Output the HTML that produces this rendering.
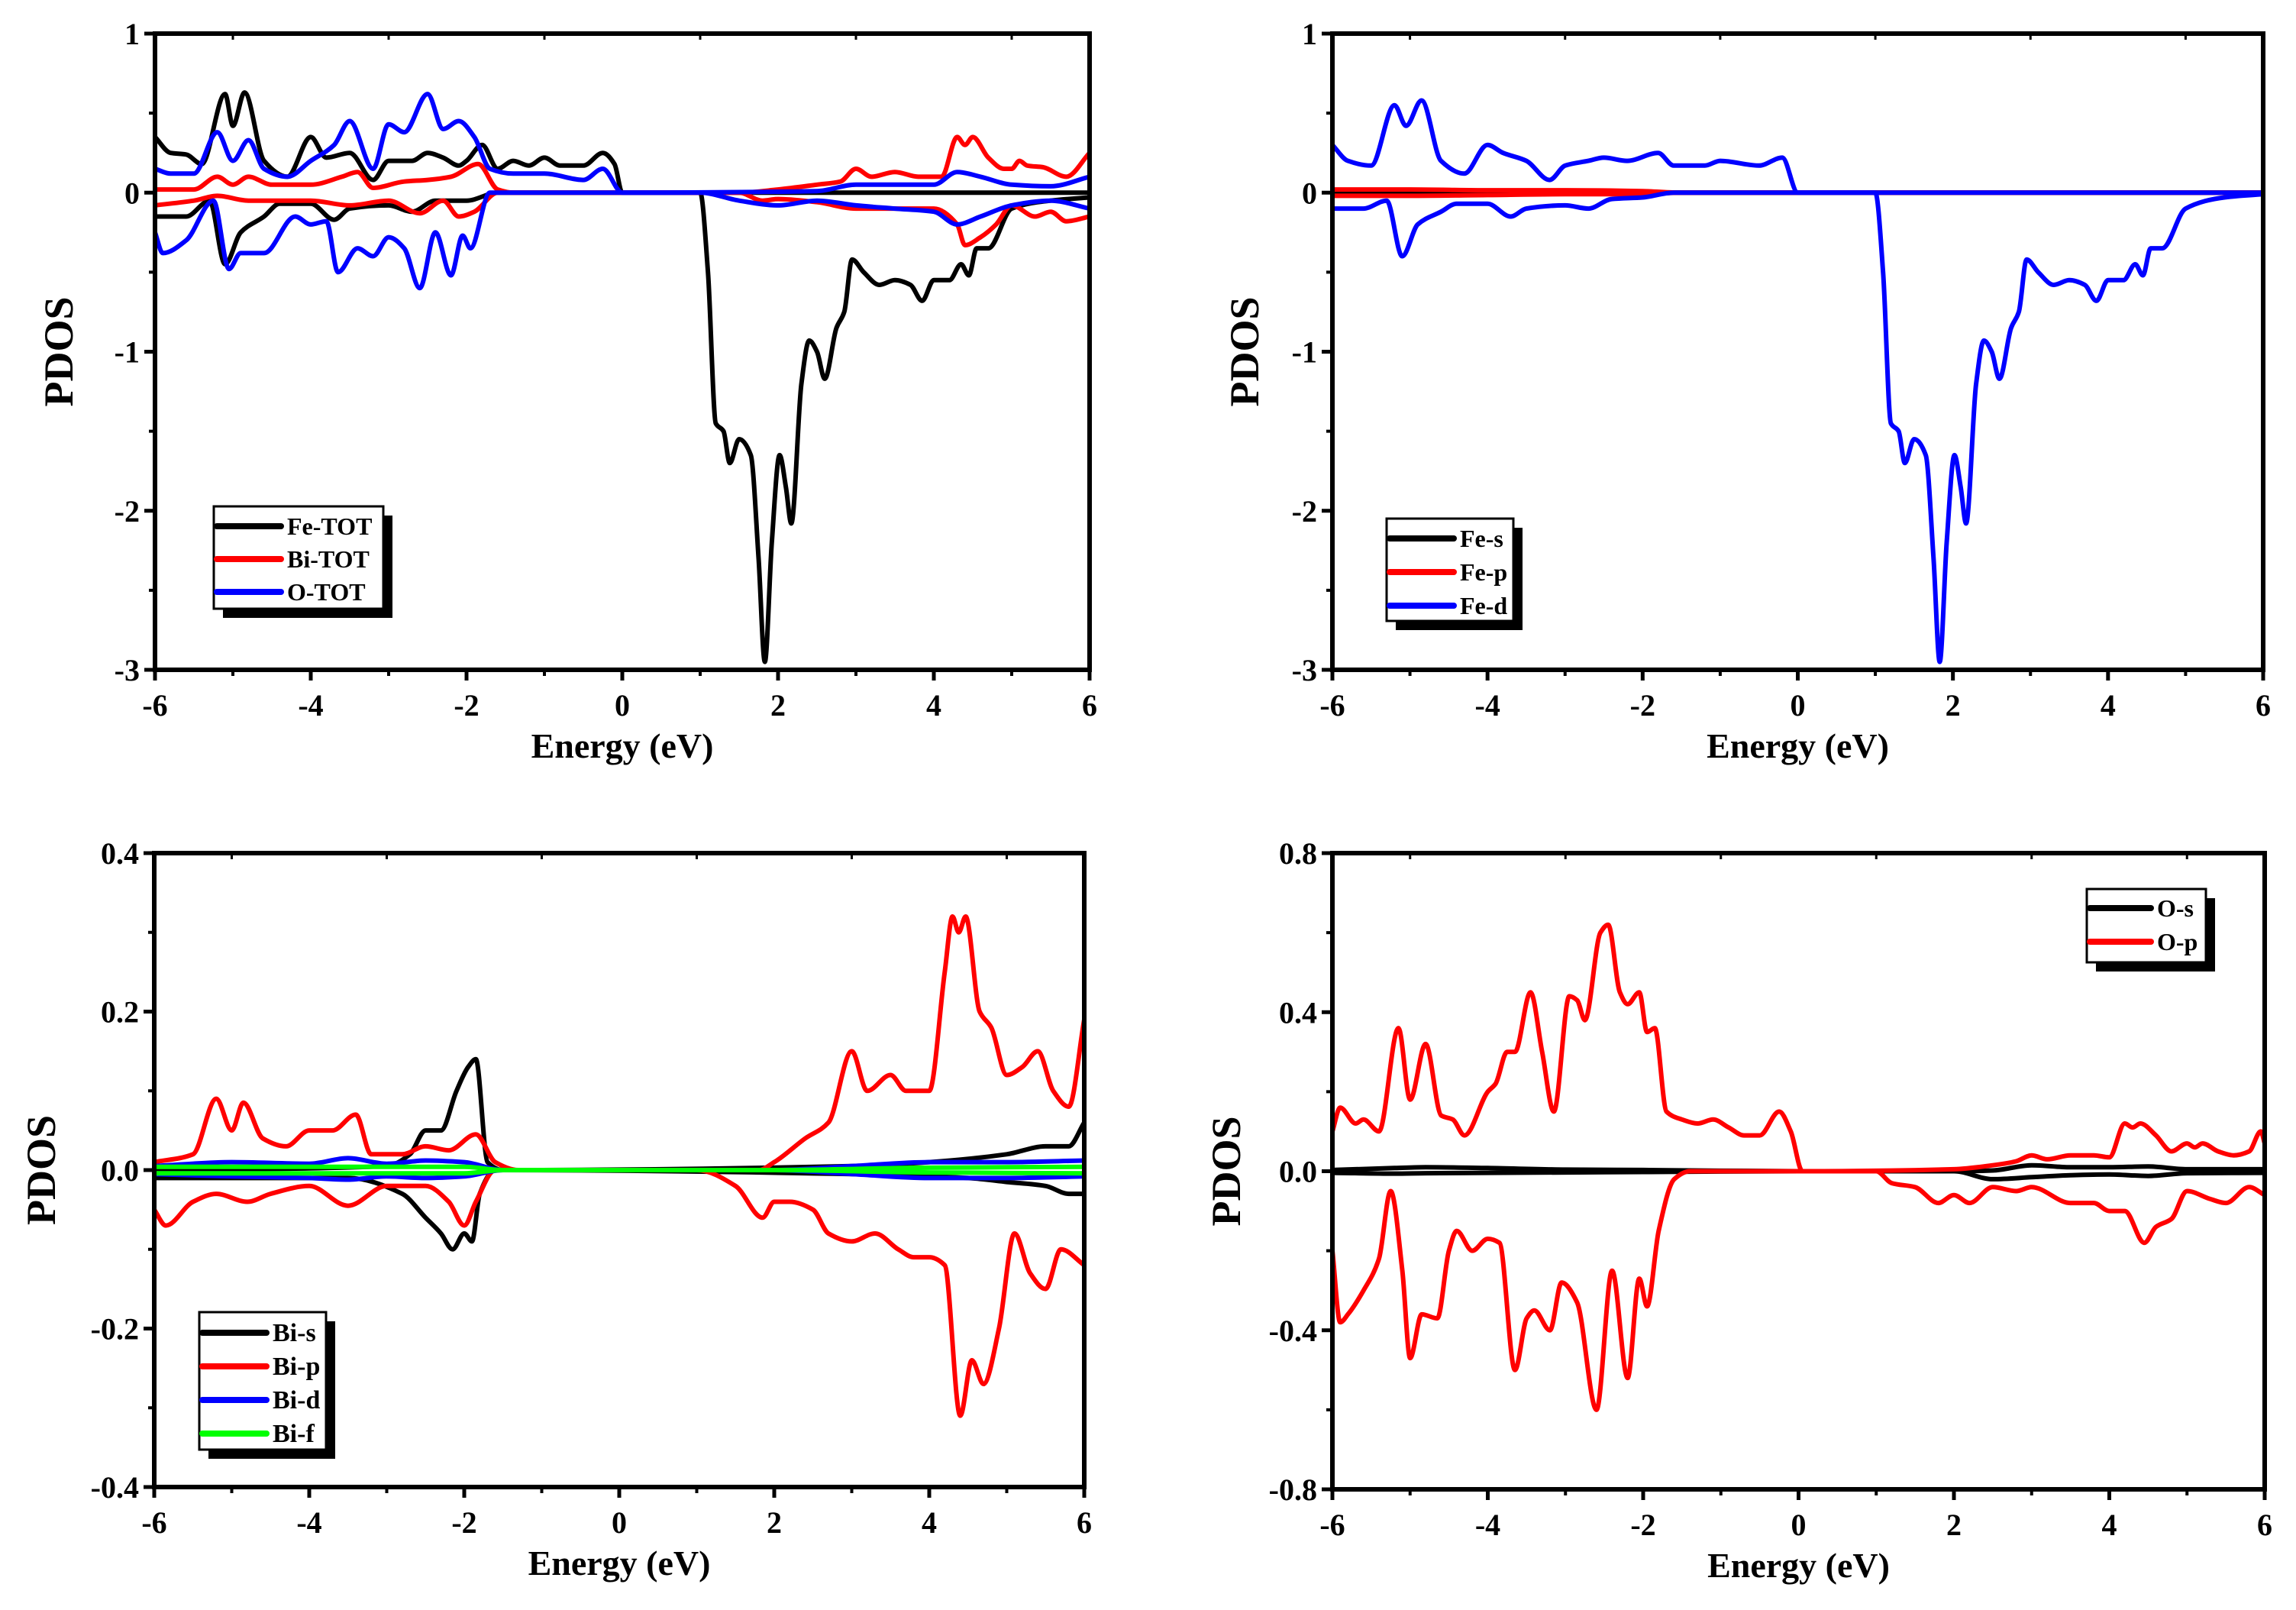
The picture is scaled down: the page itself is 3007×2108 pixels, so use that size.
<!DOCTYPE html>
<html><head><meta charset="utf-8"><style>
html,body{margin:0;padding:0;background:#fff;}
svg{display:block;font-family:"Liberation Serif",serif;font-weight:bold;}
</style></head><body>
<svg id="fig" width="3007" height="2108" viewBox="0 0 3007 2108" xmlns="http://www.w3.org/2000/svg"></svg>
<script>
// ---------- DATA ----------
const energyTicks = [-6,-4,-2,0,2,4,6];
const tlTicks = [1,0,-1,-2,-3];
const blTicks = [0.4,0.2,0.0,-0.2,-0.4];
const brTicks = [0.8,0.4,0.0,-0.4,-0.8];
const tickLabelsBL = ["0.4","0.2","0.0","-0.2","-0.4"];
const tickLabelsBR = ["0.8","0.4","0.0","-0.4","-0.8"];

// Panel A: Fe-TOT, Bi-TOT, O-TOT
const feTotUpE = [-6,-5.8,-5.6,-5.4,-5.1,-5.0,-4.85,-4.6,-4.3,-4.0,-3.8,-3.5,-3.2,-3.0,-2.7,-2.5,-2.3,-2.1,-2.0,-1.8,-1.6,-1.4,-1.2,-1.0,-0.8,-0.5,-0.25,-0.1,0,6];
const feTotUpV = [0.35,0.25,0.24,0.18,0.62,0.42,0.63,0.2,0.1,0.35,0.22,0.25,0.08,0.2,0.2,0.25,0.22,0.17,0.2,0.3,0.15,0.2,0.17,0.22,0.17,0.17,0.25,0.18,0,0];
const feTotDnE = [-6,-5.6,-5.3,-5.1,-4.9,-4.6,-4.4,-4.0,-3.7,-3.5,-3.0,-2.7,-2.4,-2.0,-1.6,0,1.0,1.1,1.2,1.3,1.38,1.5,1.65,1.75,1.83,1.92,2.02,2.1,2.17,2.3,2.4,2.5,2.6,2.75,2.85,2.95,3.1,3.3,3.5,3.7,3.85,4.0,4.2,4.35,4.45,4.55,4.7,5.0,5.5,6];
const feTotDnV = [-0.15,-0.15,-0.05,-0.45,-0.25,-0.15,-0.07,-0.07,-0.17,-0.1,-0.08,-0.12,-0.05,-0.05,0,0,0,-0.5,-1.45,-1.5,-1.7,-1.55,-1.65,-2.3,-2.95,-2.2,-1.65,-1.85,-2.08,-1.2,-0.93,-1.0,-1.17,-0.85,-0.75,-0.42,-0.5,-0.58,-0.55,-0.58,-0.68,-0.55,-0.55,-0.45,-0.52,-0.35,-0.35,-0.1,-0.05,-0.03];
const biTotUpE = [-6,-5.5,-5.2,-5.0,-4.8,-4.5,-4.0,-3.6,-3.4,-3.2,-2.8,-2.5,-2.2,-1.85,-1.6,-1.4,0,1.5,2.0,2.5,2.8,3.0,3.2,3.5,3.8,4.1,4.3,4.4,4.5,4.7,4.9,5.0,5.1,5.2,5.4,5.7,6];
const biTotUpV = [0.02,0.02,0.1,0.05,0.1,0.05,0.05,0.1,0.13,0.03,0.07,0.08,0.1,0.18,0.02,0,0,0,0.02,0.05,0.07,0.15,0.1,0.13,0.1,0.1,0.35,0.3,0.35,0.22,0.15,0.15,0.2,0.17,0.16,0.1,0.25];
const biTotDnE = [-6,-5.5,-5.2,-4.8,-4.5,-4.0,-3.5,-3.0,-2.6,-2.3,-2.1,-1.9,-1.6,1.5,1.8,2.0,2.5,3.0,3.5,4.0,4.3,4.4,4.6,4.8,5.0,5.3,5.5,5.7,6];
const biTotDnV = [-0.08,-0.05,-0.02,-0.05,-0.05,-0.05,-0.08,-0.05,-0.13,-0.05,-0.15,-0.12,0,0,-0.05,-0.04,-0.06,-0.1,-0.1,-0.1,-0.2,-0.33,-0.28,-0.2,-0.08,-0.15,-0.12,-0.18,-0.15];
const oTotUpE = [-6,-5.8,-5.5,-5.2,-5.0,-4.8,-4.6,-4.3,-4.0,-3.7,-3.5,-3.2,-3.0,-2.8,-2.5,-2.3,-2.1,-1.9,-1.7,-1.4,-1.0,-0.5,-0.25,0,2.5,3.0,3.5,4.0,4.3,4.6,5.0,5.5,6];
const oTotUpV = [0.15,0.12,0.12,0.38,0.2,0.33,0.15,0.1,0.2,0.3,0.45,0.15,0.43,0.38,0.62,0.4,0.45,0.35,0.15,0.12,0.12,0.08,0.15,0,0.01,0.05,0.05,0.05,0.13,0.1,0.05,0.04,0.1];
const oTotDnE = [-6,-5.9,-5.6,-5.25,-5.05,-4.9,-4.6,-4.2,-4.0,-3.8,-3.65,-3.4,-3.2,-3.0,-2.8,-2.6,-2.4,-2.2,-2.05,-1.95,-1.7,1.0,1.5,2.0,2.5,3.0,3.5,4.0,4.3,4.6,5.0,5.5,6];
const oTotDnV = [-0.25,-0.38,-0.3,-0.05,-0.48,-0.38,-0.38,-0.15,-0.2,-0.18,-0.5,-0.35,-0.4,-0.28,-0.35,-0.6,-0.25,-0.52,-0.27,-0.35,0,0,-0.05,-0.08,-0.05,-0.08,-0.1,-0.12,-0.2,-0.15,-0.08,-0.05,-0.1];

// Panel B: Fe-s, Fe-p, Fe-d
const feDUpE = [-6,-5.8,-5.5,-5.2,-5.05,-4.85,-4.6,-4.3,-4.0,-3.8,-3.5,-3.2,-3.0,-2.7,-2.5,-2.2,-1.8,-1.6,-1.2,-1.0,-0.5,-0.2,0,6];
const feDUpV = [0.3,0.2,0.17,0.55,0.42,0.58,0.2,0.12,0.3,0.25,0.2,0.08,0.17,0.2,0.22,0.2,0.25,0.17,0.17,0.2,0.17,0.22,0,0];
const feDDnE = feTotDnE;
const feDDnV = [-0.1,-0.1,-0.05,-0.4,-0.2,-0.12,-0.07,-0.07,-0.15,-0.1,-0.08,-0.1,-0.04,-0.03,0,0,0,-0.5,-1.45,-1.5,-1.7,-1.55,-1.65,-2.3,-2.95,-2.2,-1.65,-1.85,-2.08,-1.2,-0.93,-1.0,-1.17,-0.85,-0.75,-0.42,-0.5,-0.58,-0.55,-0.58,-0.68,-0.55,-0.55,-0.45,-0.52,-0.35,-0.35,-0.1,-0.03,-0.01];
const fePUpE = [-6,-5,-4,-3,-2,-1.5,6];
const fePUpV = [0.02,0.02,0.015,0.015,0.01,0,0];
const fePDnE = [-6,-5,-4,-3,-2,-1.5,6];
const fePDnV = [-0.02,-0.02,-0.015,-0.01,-0.01,0,0];
const feSE = [-6,6];
const feSV = [0,0];

// Panel C: Bi-s, Bi-p, Bi-d, Bi-f
const biPUpE = [-6,-5.5,-5.2,-5.0,-4.85,-4.6,-4.3,-4.0,-3.7,-3.4,-3.2,-2.8,-2.5,-2.2,-1.85,-1.6,-1.3,1.8,2.0,2.4,2.7,3.0,3.2,3.5,3.7,4.0,4.2,4.3,4.38,4.47,4.65,4.8,5.0,5.2,5.4,5.6,5.8,6];
const biPUpV = [0.01,0.02,0.09,0.05,0.085,0.04,0.03,0.05,0.05,0.07,0.02,0.02,0.03,0.025,0.045,0.01,0,0,0.01,0.04,0.06,0.15,0.1,0.12,0.1,0.1,0.25,0.32,0.3,0.32,0.2,0.18,0.12,0.13,0.15,0.1,0.08,0.19];
const biPDnE = [-6,-5.85,-5.5,-5.2,-4.8,-4.5,-4.0,-3.5,-3.0,-2.5,-2.2,-2.0,-1.85,-1.6,1.0,1.5,1.85,2.0,2.2,2.5,2.7,3.0,3.3,3.6,3.8,4.0,4.2,4.4,4.55,4.7,4.9,5.1,5.3,5.5,5.7,6];
const biPDnV = [-0.05,-0.07,-0.04,-0.03,-0.04,-0.03,-0.02,-0.045,-0.02,-0.02,-0.04,-0.07,-0.04,0,0,-0.02,-0.06,-0.04,-0.04,-0.05,-0.08,-0.09,-0.08,-0.1,-0.11,-0.11,-0.12,-0.31,-0.24,-0.27,-0.2,-0.08,-0.13,-0.15,-0.1,-0.12];
const biSUpE = [-6,-3,-2.7,-2.5,-2.3,-2.1,-1.95,-1.85,-1.7,-1.5,3,4,5,5.5,5.8,6];
const biSUpV = [0,0.005,0.02,0.05,0.05,0.1,0.13,0.14,0.01,0,0.005,0.01,0.02,0.03,0.03,0.06];
const biSDnE = [-6,-3.5,-2.8,-2.5,-2.3,-2.15,-2.0,-1.9,-1.8,-1.6,3,4.5,5,5.5,5.8,6];
const biSDnV = [-0.01,-0.01,-0.03,-0.06,-0.08,-0.1,-0.08,-0.09,-0.03,0,-0.005,-0.01,-0.015,-0.02,-0.03,-0.03];
const biDUpE = [-6,-5,-4,-3.5,-3,-2.5,-2,-1.5,2,3,4,5,6];
const biDUpV = [0.005,0.01,0.008,0.015,0.008,0.012,0.01,0,0,0.005,0.01,0.01,0.012];
const biDDnE = [-6,-5,-4,-3.5,-3,-2.5,-2,-1.5,2,3,4,5,6];
const biDDnV = [-0.005,-0.008,-0.01,-0.012,-0.008,-0.01,-0.008,0,0,-0.005,-0.01,-0.01,-0.008];
const biFUpE = [-6,-4,-2,-1.5,2,4,6];
const biFUpV = [0.004,0.004,0.004,0,0,0.003,0.004];
const biFDnE = [-6,-4,-2,-1.5,2,4,6];
const biFDnV = [-0.004,-0.004,-0.004,0,0,-0.003,-0.004];

// Panel D: O-s, O-p
const oPUpE = [-6,-5.9,-5.7,-5.6,-5.4,-5.15,-5.0,-4.8,-4.6,-4.45,-4.3,-4.0,-3.9,-3.75,-3.65,-3.45,-3.3,-3.15,-2.95,-2.85,-2.75,-2.55,-2.45,-2.3,-2.2,-2.05,-1.95,-1.85,-1.7,-1.5,-1.3,-1.1,-0.9,-0.7,-0.5,-0.25,-0.1,0.05,2.0,2.5,2.8,3.0,3.2,3.5,3.8,4.0,4.2,4.3,4.4,4.6,4.8,5.0,5.1,5.2,5.4,5.6,5.8,5.95,6];
const oPUpV = [0.1,0.16,0.12,0.13,0.1,0.36,0.18,0.32,0.14,0.13,0.09,0.2,0.22,0.3,0.3,0.45,0.3,0.15,0.44,0.43,0.38,0.6,0.62,0.45,0.42,0.45,0.35,0.36,0.15,0.13,0.12,0.13,0.11,0.09,0.09,0.15,0.1,0,0.005,0.015,0.025,0.04,0.03,0.04,0.04,0.035,0.12,0.11,0.12,0.09,0.05,0.07,0.06,0.07,0.05,0.04,0.05,0.1,0.07];
const oPDnE = [-6,-5.9,-5.8,-5.6,-5.4,-5.25,-5.1,-5.0,-4.85,-4.65,-4.5,-4.4,-4.2,-4.0,-3.85,-3.65,-3.5,-3.4,-3.2,-3.05,-2.85,-2.6,-2.4,-2.2,-2.05,-1.95,-1.8,-1.6,-1.4,1.0,1.2,1.5,1.8,2.0,2.2,2.5,2.8,3.0,3.5,3.8,4.0,4.2,4.45,4.6,4.8,5.0,5.3,5.5,5.8,6];
const oPDnV = [-0.2,-0.38,-0.36,-0.3,-0.22,-0.05,-0.25,-0.47,-0.36,-0.37,-0.2,-0.15,-0.2,-0.17,-0.18,-0.5,-0.37,-0.35,-0.4,-0.28,-0.33,-0.6,-0.25,-0.52,-0.27,-0.34,-0.15,-0.02,0,0,-0.03,-0.04,-0.08,-0.06,-0.08,-0.04,-0.05,-0.04,-0.08,-0.08,-0.1,-0.1,-0.18,-0.14,-0.12,-0.05,-0.07,-0.08,-0.04,-0.06];
const oSUpE = [-6,-5.2,-4.8,-4,-3,-2,0,2,2.5,3.0,3.5,4.0,4.5,5,6];
const oSUpV = [0.003,0.008,0.01,0.008,0.004,0.003,0,0,0.002,0.015,0.01,0.01,0.012,0.005,0.005];
const oSDnE = [-6,-5.2,-4.8,-4,-3,-2,0,2,2.5,3.0,3.5,4.0,4.5,5,6];
const oSDnV = [-0.004,-0.006,-0.005,-0.004,-0.003,-0.002,0,0,-0.02,-0.015,-0.01,-0.008,-0.012,-0.005,-0.004];

// ---------- DRAWING ----------
const NS = "http://www.w3.org/2000/svg";
const svg = document.getElementById("fig");
function mk(tag, attrs, parent){
  const el = document.createElementNS(NS, tag);
  for (const k in attrs) el.setAttribute(k, attrs[k]);
  (parent||svg).appendChild(el);
  return el;
}
function smoothPath(pts){
  const n = pts.length;
  if (n < 2) return "";
  const d = [], m = new Array(n);
  for (let i=0;i<n-1;i++) d.push((pts[i+1][1]-pts[i][1])/(pts[i+1][0]-pts[i][0]));
  m[0] = d[0]; m[n-1] = d[n-2];
  for (let i=1;i<n-1;i++){
    if (d[i-1]*d[i] <= 0) m[i] = 0;
    else {
      const h0 = pts[i][0]-pts[i-1][0], h1 = pts[i+1][0]-pts[i][0];
      const w1 = 2*h1+h0, w2 = h1+2*h0;
      m[i] = (w1+w2)/(w1/d[i-1]+w2/d[i]);
    }
  }
  let s = "M" + pts[0][0].toFixed(1) + "," + pts[0][1].toFixed(1);
  for (let i=0;i<n-1;i++){
    const h = pts[i+1][0]-pts[i][0];
    const c1x = pts[i][0]+h/3, c1y = pts[i][1]+m[i]*h/3;
    const c2x = pts[i+1][0]-h/3, c2y = pts[i+1][1]-m[i+1]*h/3;
    s += "C"+c1x.toFixed(1)+","+c1y.toFixed(1)+" "+c2x.toFixed(1)+","+c2y.toFixed(1)+" "+pts[i+1][0].toFixed(1)+","+pts[i+1][1].toFixed(1);
  }
  return s;
}

function panel(cfg){
  const g = mk("g", {});
  
  
  const L=cfg.l, R=cfg.r, T=cfg.t, B=cfg.b;
  const xs = e => L + (e+6)/12*(R-L);
  const ys = v => T + (cfg.ymax - v)/(cfg.ymax-cfg.ymin)*(B-T);
  const cid = "clip-"+cfg.name;
  const cp = mk("clipPath", {id:cid}, g);
  mk("rect", {x:L, y:T-20, width:R-L, height:B-T+40}, cp);
  const sg = mk("g", {"clip-path":"url(#"+cid+")"}, g);
  cfg.series.forEach(s=>{
    s.curves.forEach((c,ci)=>{
      const pts = c[0].map((e,i)=>[xs(e), ys(c[1][i])]);
      const p = mk("path", {d:smoothPath(pts), fill:"none", stroke:s.color, "stroke-width":s.w||6, "stroke-linejoin":"round", "stroke-linecap":"round"}, sg);
      
      
    });
  });
  const fr = mk("rect", {x:L, y:T, width:R-L, height:B-T, fill:"none", stroke:"#000", "stroke-width":6}, g);
  
  
  energyTicks.forEach(e=>{
    const x = xs(e);
    mk("line", {x1:x, y1:B, x2:x, y2:B+14, stroke:"#000", "stroke-width":5}, g);
    const t = mk("text", {x:x, y:B+60, "text-anchor":"middle", "font-size":40}, g);
    t.textContent = String(e);
    
    
  });
  for (let e=-5;e<=5;e+=2){
    const x = xs(e);
    mk("line", {x1:x, y1:B, x2:x, y2:B+8, stroke:"#000", "stroke-width":4}, g);
    mk("line", {x1:x, y1:T, x2:x, y2:T+8, stroke:"#000", "stroke-width":3}, g);
  }
  cfg.yticks.forEach((v,i)=>{
    const y = ys(v);
    mk("line", {x1:L-14, y1:y, x2:L, y2:y, stroke:"#000", "stroke-width":5}, g);
    const t = mk("text", {x:L-20, y:y+14, "text-anchor":"end", "font-size":40}, g);
    t.textContent = cfg.ylabels ? cfg.ylabels[i] : String(v);
    
    
  });
  for (let i=0;i<cfg.yticks.length-1;i++){
    const y = ys((cfg.yticks[i]+cfg.yticks[i+1])/2);
    mk("line", {x1:L-8, y1:y, x2:L, y2:y, stroke:"#000", "stroke-width":4}, g);
  }
  const xt = mk("text", {x:(L+R)/2, y:B+115, "text-anchor":"middle", "font-size":46}, g);
  xt.textContent = "Energy (eV)";
  
  
  const yx = cfg.ytx, yy = (T+B)/2;
  const yt = mk("text", {x:yx, y:yy, "text-anchor":"middle", "font-size":54, transform:"rotate(-90 "+yx+" "+yy+")"}, g);
  yt.textContent = "PDOS";
  
  
  const lg = cfg.legend;
  const lgG = mk("g", {}, g);
  
  
  mk("rect", {x:lg.x+12, y:lg.y+12, width:lg.w, height:lg.h, fill:"#000"}, lgG);
  mk("rect", {x:lg.x, y:lg.y, width:lg.w, height:lg.h, fill:"#fff", stroke:"#000", "stroke-width":3}, lgG);
  cfg.series.forEach((s,i)=>{
    const y = lg.y + lg.first + i*lg.gap;
    const en = mk("g", {}, lgG);
    
    
    mk("line", {x1:lg.x+4, y1:y, x2:lg.x+lg.line, y2:y, stroke:s.color, "stroke-width":8, "stroke-linecap":"round"}, en);
    const t = mk("text", {x:lg.x+lg.line+8, y:y+11, "font-size":lg.fs}, en);
    t.textContent = s.label;
  });
}

panel({name:"panel-total-pdos", l:203, r:1427, t:44, b:877, ymin:-3, ymax:1, yticks:tlTicks, ytx:95,
  legend:{x:280, y:663, w:222, h:134, first:26, gap:43, line:88, fs:32},
  series:[
    {id:"fe-tot", label:"Fe-TOT", color:"#000", curves:[[feTotUpE,feTotUpV],[feTotDnE,feTotDnV]]},
    {id:"bi-tot", label:"Bi-TOT", color:"#f00", curves:[[biTotUpE,biTotUpV],[biTotDnE,biTotDnV]]},
    {id:"o-tot", label:"O-TOT", color:"#00f", curves:[[oTotUpE,oTotUpV],[oTotDnE,oTotDnV]]}
  ]});
panel({name:"panel-fe-pdos", l:1745, r:2964, t:44, b:877, ymin:-3, ymax:1, yticks:tlTicks, ytx:1648,
  legend:{x:1816, y:679, w:166, h:134, first:26, gap:44, line:88, fs:32},
  series:[
    {id:"fe-s", label:"Fe-s", color:"#000", curves:[[feSE,feSV],[feSE,feSV]]},
    {id:"fe-p", label:"Fe-p", color:"#f00", curves:[[fePUpE,fePUpV],[fePDnE,fePDnV]]},
    {id:"fe-d", label:"Fe-d", color:"#00f", curves:[[feDUpE,feDUpV],[feDDnE,feDDnV]]}
  ]});
panel({name:"panel-bi-pdos", l:202, r:1420, t:1117, b:1947, ymin:-0.4, ymax:0.4, yticks:blTicks, ylabels:tickLabelsBL, ytx:72,
  legend:{x:261, y:1718, w:166, h:180, first:27, gap:44, line:88, fs:34},
  series:[
    {id:"bi-s", label:"Bi-s", color:"#000", curves:[[biSUpE,biSUpV],[biSDnE,biSDnV]]},
    {id:"bi-p", label:"Bi-p", color:"#f00", curves:[[biPUpE,biPUpV],[biPDnE,biPDnV]]},
    {id:"bi-d", label:"Bi-d", color:"#00f", curves:[[biDUpE,biDUpV],[biDDnE,biDDnV]]},
    {id:"bi-f", label:"Bi-f", color:"#0f0", curves:[[biFUpE,biFUpV],[biFDnE,biFDnV]]}
  ]});
panel({name:"panel-o-pdos", l:1745, r:2966, t:1117, b:1950, ymin:-0.8, ymax:0.8, yticks:brTicks, ylabels:tickLabelsBR, ytx:1624,
  legend:{x:2733, y:1164, w:156, h:96, first:25, gap:44, line:84, fs:32},
  series:[
    {id:"o-s", label:"O-s", color:"#000", curves:[[oSUpE,oSUpV],[oSDnE,oSDnV]]},
    {id:"o-p", label:"O-p", color:"#f00", curves:[[oPUpE,oPUpV],[oPDnE,oPDnV]]}
  ]});
</script>
</body></html>
